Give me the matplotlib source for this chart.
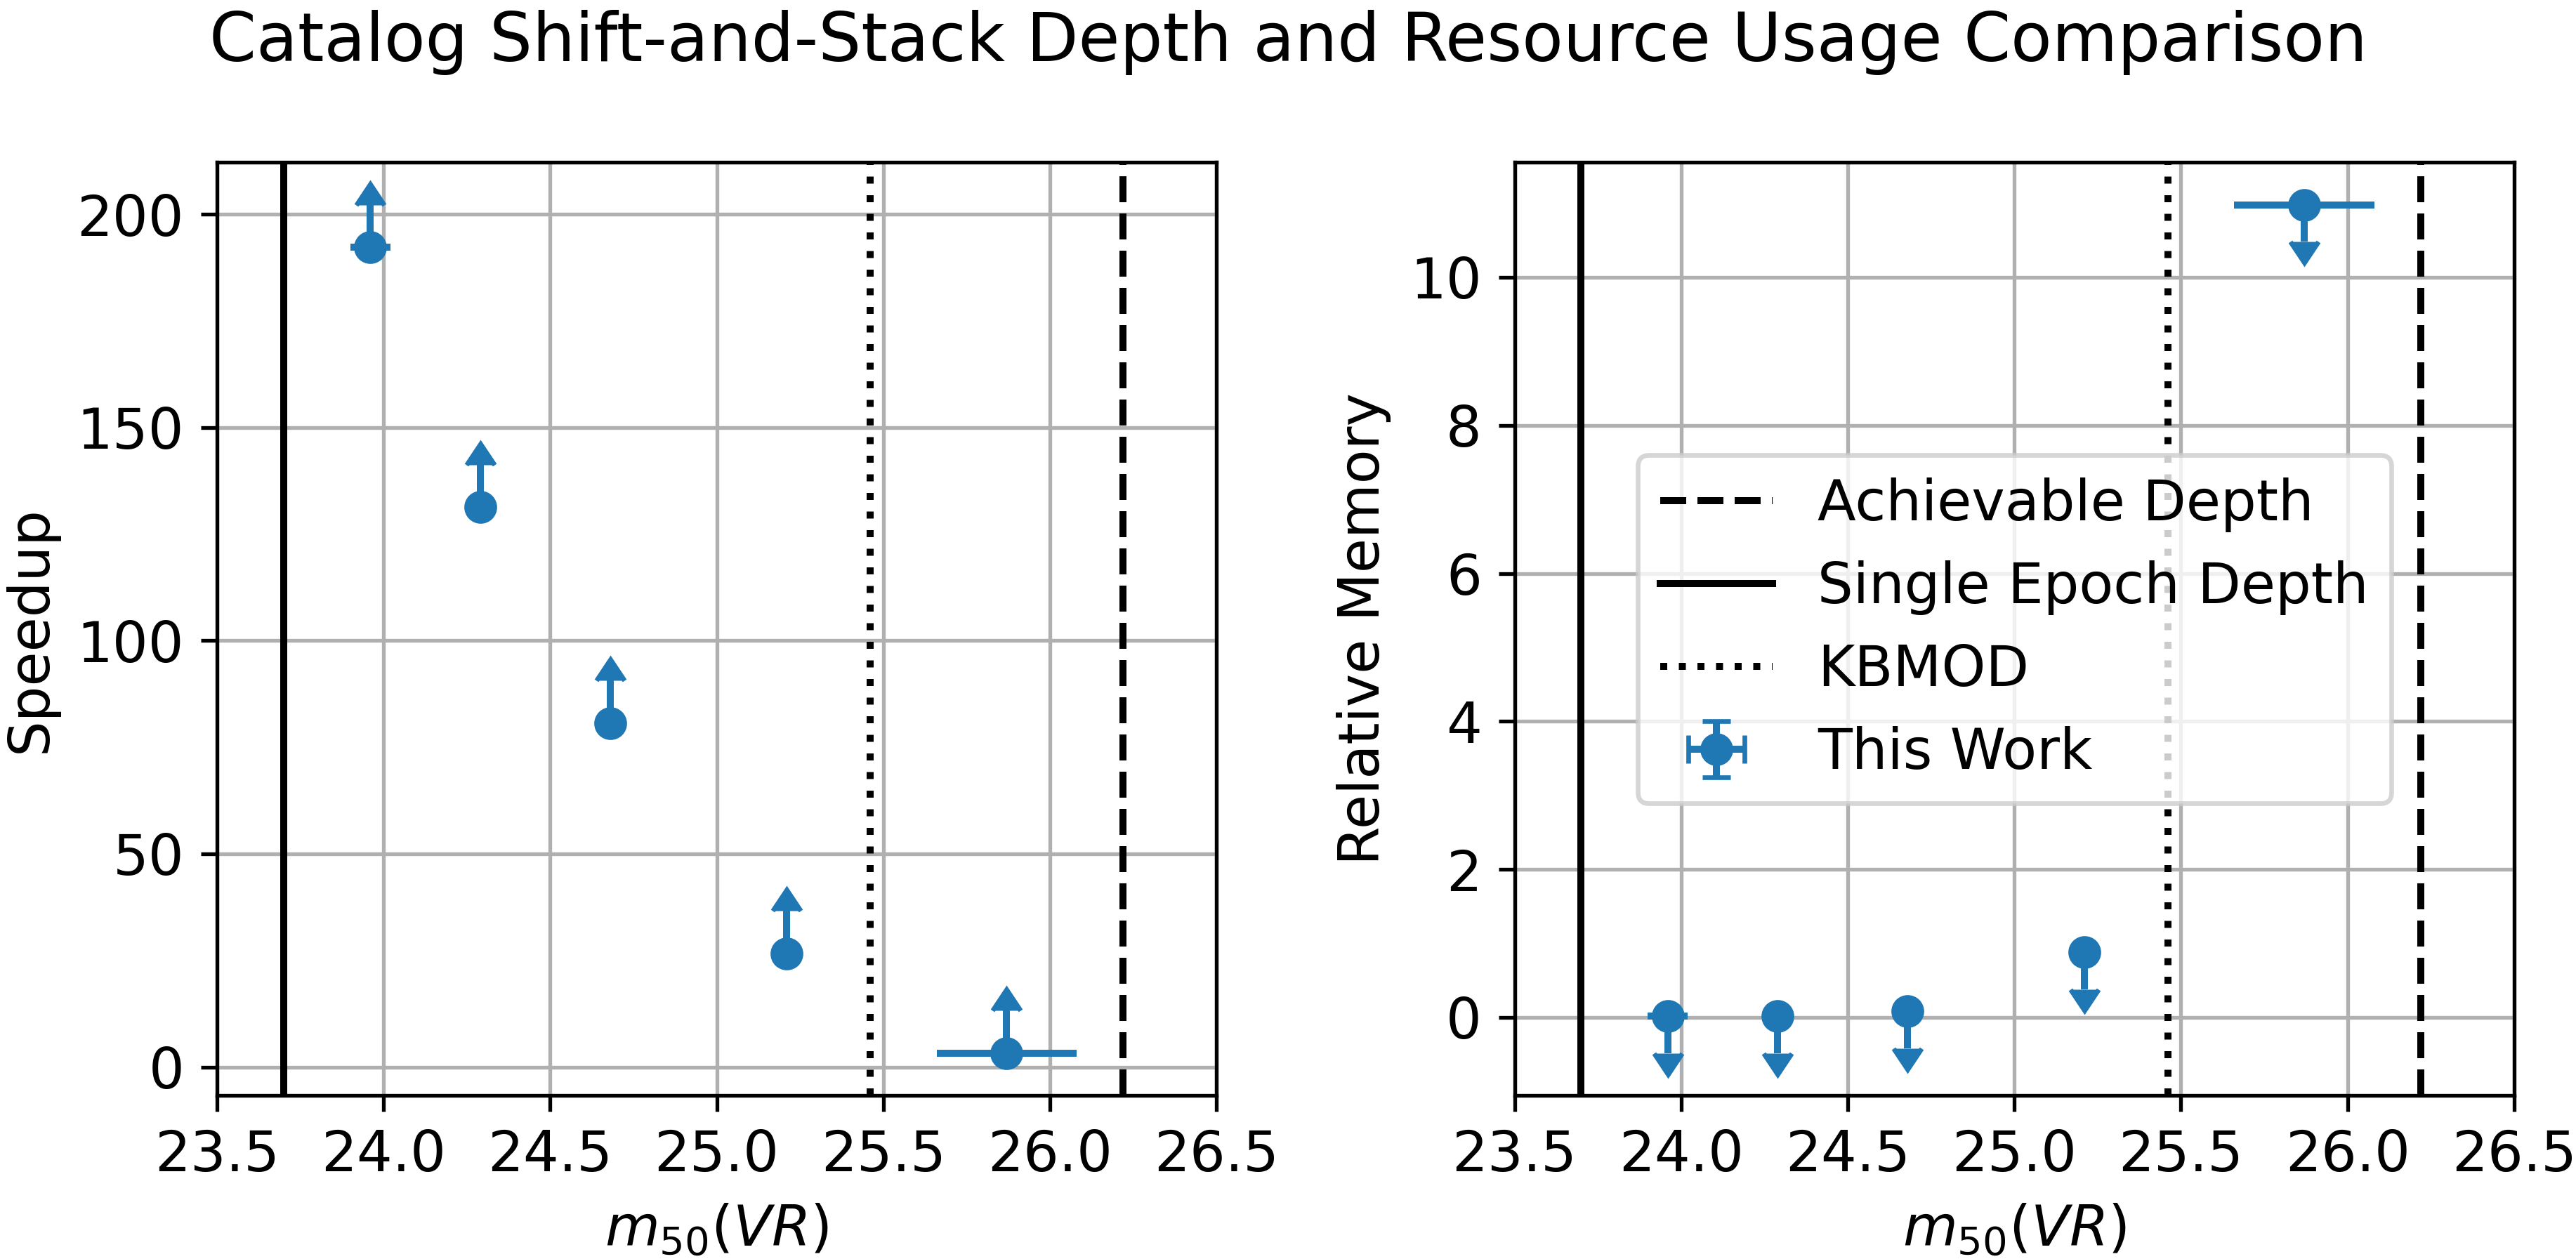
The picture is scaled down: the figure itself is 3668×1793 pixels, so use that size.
import matplotlib
matplotlib.use("Agg")
import matplotlib.pyplot as plt
import numpy as np

plt.rcParams["font.size"] = 12

# depths (m50 in VR) for each shift-and-stack run
depth = np.array([23.96, 24.29, 24.68, 25.21, 25.87])
depth_err = np.array([0.06, 0.02, 0.02, 0.02, 0.21])

speedup = np.array([192.2, 131.3, 80.6, 26.6, 3.3])
speedup_err = np.array([10, 10, 10, 10, 10])

memory = np.array([0.02, 0.02, 0.08, 0.88, 10.98])
memory_err = np.array([0.5, 0.5, 0.5, 0.5, 0.5])

single_epoch = 23.70
kbmod = 25.46
achievable = 26.22

xticks = [23.5, 24.0, 24.5, 25.0, 25.5, 26.0, 26.5]

dpi = 480
fig, axes = plt.subplots(1, 2, figsize=(3668 / dpi, 1793 / dpi), dpi=dpi)
fig.subplots_adjust(left=0.0842, right=0.976, top=0.871, bottom=0.130, wspace=0.298)

panels = [
    (axes[0], speedup, speedup_err, "Speedup", True),
    (axes[1], memory, memory_err, "Relative Memory", False),
]
for ax, vals, errs, ylabel, lower in panels:
    ax.axvline(achievable, color="k", ls="--", label="Achievable Depth")
    ax.axvline(single_epoch, color="k", ls="-", label="Single Epoch Depth")
    ax.axvline(kbmod, color="k", ls=":", label="KBMOD")
    ax.errorbar(depth, vals, xerr=depth_err, yerr=errs, fmt="o",
                lolims=lower, uplims=not lower, label="This Work")
    ax.set_xlim(23.5, 26.5)
    ax.set_xticks(xticks)
    ax.set_xlabel(r"$m_{50}(VR)$")
    ax.set_ylabel(ylabel)
    ax.grid(True)

axes[1].legend(loc="center")
fig.suptitle("Catalog Shift-and-Stack Depth and Resource Usage Comparison", y=0.992)

fig.savefig("out.png", dpi=dpi)
